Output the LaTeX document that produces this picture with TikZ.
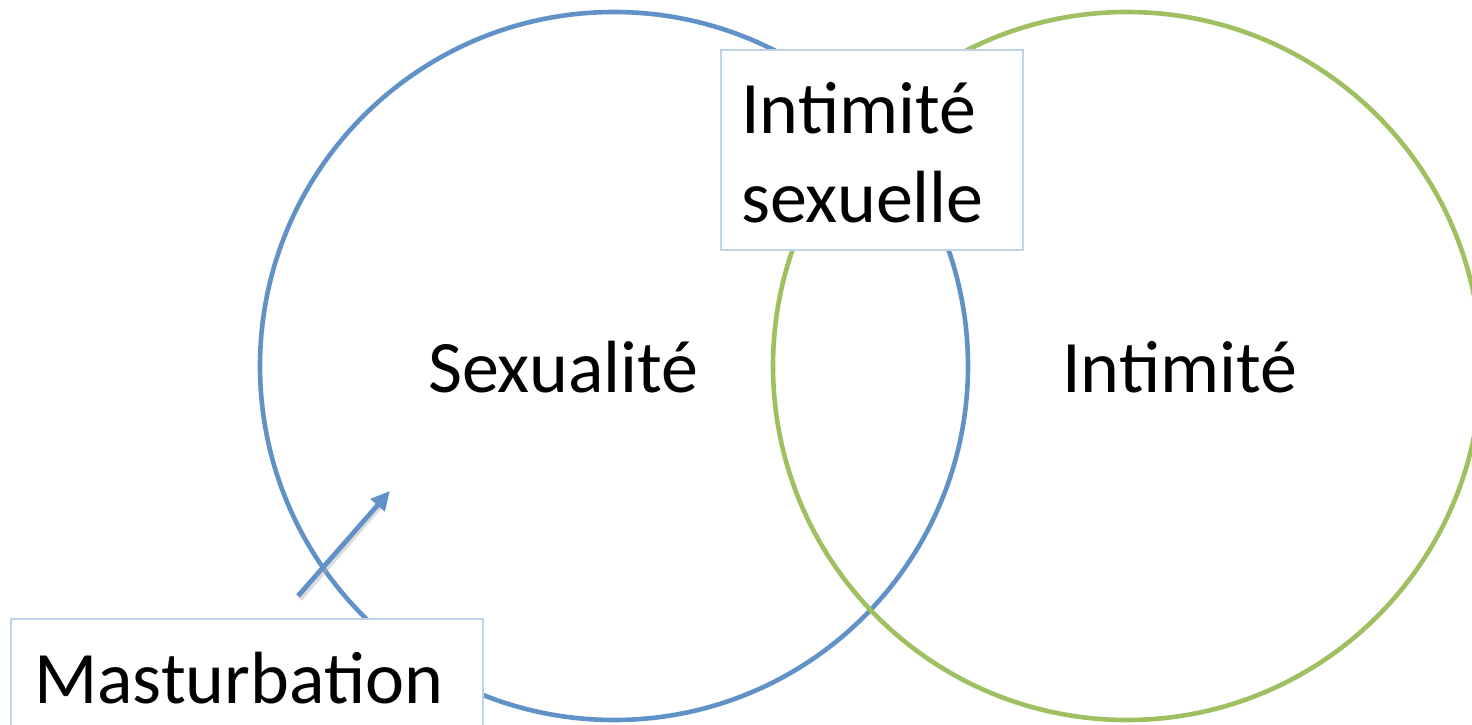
\documentclass[tikz,border=0pt]{standalone}
\usepackage{fontspec}
\setmainfont{Carlito}
\usetikzlibrary{arrows.meta,calc}
\definecolor{cblue}{RGB}{96,146,200}
\definecolor{cgreen}{RGB}{158,192,96}
\definecolor{cframe}{RGB}{190,210,232}
\tikzset{
  ring/.style={line width=4.6pt},
  lbl/.style={font=\fontsize{74}{88}\selectfont, inner sep=0pt, anchor=base west},
  frame/.style={draw=cframe, line width=1.8pt, fill=white, rectangle, inner sep=0pt},
  arr/.style={cblue, line width=4.8pt, -{Triangle[length=19pt,width=18pt]}},
  arrshadow/.style={black!30, opacity=0.45, line width=5pt}
}
\begin{document}
\begin{tikzpicture}[x=1pt,y=-1pt]
\useasboundingbox (0,0) rectangle (1472,725);
\clip (0,0) rectangle (1472,725);
\fill[white] (0,0) rectangle (1472,725);
% circles
\node[ring, draw=cblue, circle, minimum size=708pt, inner sep=0pt] (sex) at (614,366) {};
\node[ring, draw=cgreen, circle, minimum size=708pt, inner sep=0pt] (int) at (1127,366) {};
% arrow
\coordinate (as) at (298,596);
\coordinate (ae) at (390,491);
\draw[arrshadow] ($(as)+(2,3)$) -- ($(ae)+(-6,11)$);
\draw[arr] (as) -- (ae);
% boxes
\node[frame, minimum width=302pt, minimum height=200pt, anchor=north west] (isbox) at (720,49) {};
\node[frame, minimum width=472pt, minimum height=150pt, anchor=north west] (mbox) at (10,618) {};
% labels
\node[lbl] (tsex) at (428,392) {Sexualité};
\node[lbl] (tint) at (1062,392) {Intimité};
\node[lbl] (tis1) at (741,133) {Intimité};
\node[lbl] (tis2) at (741,222) {sexuelle};
\node[lbl] (tmas) at (34,703) {Masturbation};
\end{tikzpicture}
\end{document}
